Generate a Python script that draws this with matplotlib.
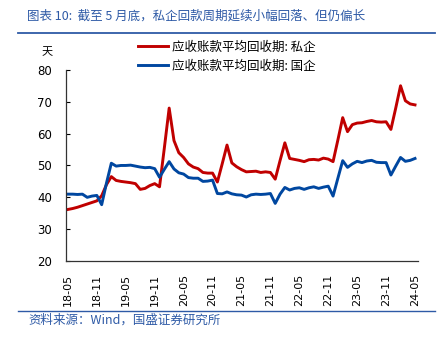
import matplotlib
matplotlib.use("Agg")
import matplotlib.pyplot as plt
from matplotlib.lines import Line2D

plt.rcParams["font.family"] = ["Noto Sans CJK SC", "DejaVu Sans"]

# --------------------------------------------------
# Data: monthly receivable collection period (days), 2018-05 .. 2024-05
# --------------------------------------------------
tick_labels = ["18-05", "18-11", "19-05", "19-11", "20-05", "20-11", "21-05",
               "21-11", "22-05", "22-11", "23-05", "23-11", "24-05"]

private_days = [
    36.2, 36.5, 36.9, 37.4, 37.9, 38.4, 38.9, 40.5, 44.0, 46.5,
    45.3, 45.0, 44.8, 44.6, 44.3, 42.5, 42.8, 43.7, 44.3, 43.3,
    55.5, 68.0, 57.8, 54.0, 52.5, 50.5, 49.5, 49.0, 47.8, 47.6,
    47.6, 44.8, 50.5, 56.4, 50.8, 49.6, 48.7, 48.0, 48.1, 48.2,
    47.8, 48.0, 47.8, 45.7, 51.5, 57.1, 52.2, 51.9, 51.6, 51.2,
    51.8, 51.9, 51.7, 52.3, 52.0, 51.2, 58.0, 65.0, 60.6, 62.8,
    63.3, 63.4, 63.8, 64.1, 63.7, 63.6, 63.7, 61.3, 68.0, 75.0,
    70.3, 69.3, 69.0,
]

state_days = [
    41.0, 41.0, 40.9, 41.0, 40.0, 40.4, 40.6, 37.7, 44.5, 50.7,
    49.8, 50.0, 50.0, 50.1, 49.8, 49.5, 49.3, 49.4, 49.0, 46.3,
    48.8, 51.2, 48.9, 47.7, 47.3, 46.2, 46.0, 46.0, 45.0, 45.1,
    45.4, 41.2, 41.1, 41.7, 41.1, 40.8, 40.7, 40.1, 40.8, 41.0,
    40.9, 41.0, 41.2, 38.1, 41.0, 43.1, 42.3, 42.8, 43.0, 42.5,
    43.0, 43.3, 42.8, 43.2, 43.5, 40.4, 46.0, 51.5, 49.4, 50.5,
    51.3, 50.9, 51.4, 51.6, 51.0, 50.9, 50.9, 47.0, 49.8, 52.5,
    51.3, 51.6, 52.2,
]

series_names = ["应收账款平均回收期: 私企", "应收账款平均回收期: 国企"]
title_text = "图表 10:  截至 5 月底，私企回款周期延续小幅回落、但仍偏长"
source_text = "资料来源：Wind，国盛证券研究所"

red = "#C00000"
blue = "#0047A0"
frame_blue = "#2E5AA6"

# --------------------------------------------------
# Figure
# --------------------------------------------------
fig = plt.figure(figsize=(4.46, 3.44), dpi=100)
ax = fig.add_axes([0.148, 0.241, 0.789, 0.556])

months = list(range(len(private_days)))
ax.plot(months, private_days, color=red, linewidth=2.1, solid_joinstyle="round")
ax.plot(months, state_days, color=blue, linewidth=2.1, solid_joinstyle="round")

ax.set_ylim(20, 80)
ax.set_yticks(range(20, 81, 10))
ax.set_xlim(-0.4, 72.6)
ax.set_xticks(range(0, len(months), 6))
ax.set_xticklabels(tick_labels, rotation=90, family="DejaVu Sans", fontsize=8)
for lbl in ax.get_yticklabels():
    lbl.set_family("DejaVu Sans")
    lbl.set_fontsize(8.5)

ax.tick_params(axis="y", direction="in", length=3, width=0.8, pad=10)
ax.tick_params(axis="x", length=0, pad=9)
ax.spines["top"].set_visible(False)
ax.spines["right"].set_visible(False)
for side in ["left", "bottom"]:
    ax.spines[side].set_linewidth(0.9)
    ax.spines[side].set_color("#333333")

ax.text(-0.054, 1.094, "天", transform=ax.transAxes, fontsize=8,
        ha="center", va="center")

handles = [Line2D([], [], color=red, linewidth=2.1),
           Line2D([], [], color=blue, linewidth=2.1)]
ax.legend(handles, series_names, loc="upper left",
          bbox_to_anchor=(0.19, 1.178), frameon=False, fontsize=9,
          handlelength=2.4, handletextpad=0.35, labelspacing=0.45,
          borderaxespad=0)

# Header and footer
fig.text(0.06, 0.952, title_text, color=frame_blue, fontsize=9,
         ha="left", va="center", style="italic")
fig.add_artist(Line2D([0.04, 0.975], [0.903, 0.903], color=frame_blue,
                      linewidth=1.3, transform=fig.transFigure))
fig.add_artist(Line2D([0.04, 0.975], [0.096, 0.096], color=frame_blue,
                      linewidth=1.0, transform=fig.transFigure))
fig.text(0.063, 0.068, source_text, color=frame_blue, fontsize=9,
         ha="left", va="center", style="italic")

fig.savefig("out.png", dpi=100)
